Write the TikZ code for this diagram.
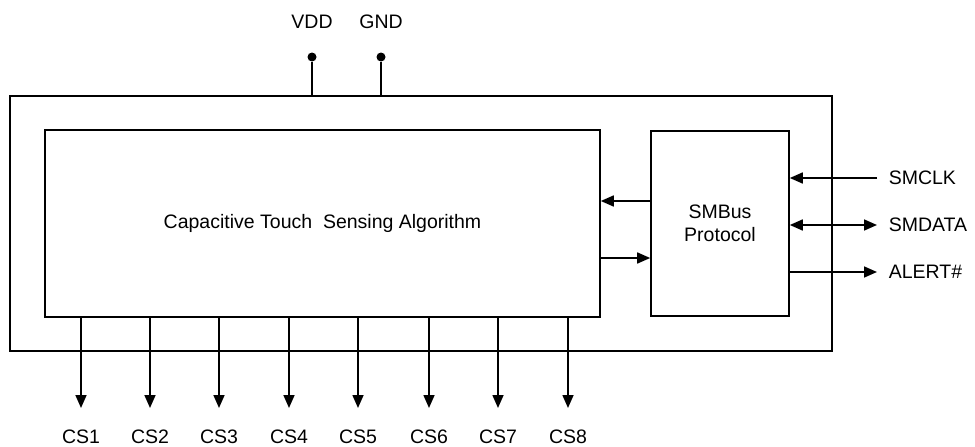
\documentclass[tikz,border=0pt]{standalone}
\usepackage{fontspec}
\setmainfont{Liberation Sans}
\usetikzlibrary{arrows.meta,calc}
\begin{document}
\begin{tikzpicture}[x=1pt,y=-1pt,
  line width=1.6pt,
  box/.style={draw,line width=1.6pt,inner sep=0pt,font=\fontsize{19.5}{23}\selectfont,align=center},
  lbl/.style={inner sep=0pt,font=\fontsize{19.5}{23}\selectfont},
  tip/.style={-{Triangle[length=13pt,width=11pt]}},
  dtip/.style={{Triangle[length=13pt,width=11pt]}-{Triangle[length=13pt,width=11pt]}},
  pin/.style={circle,fill=black,inner sep=0pt,minimum size=9pt}]
\useasboundingbox (0,0) rectangle (975,447);
\node[box,minimum width=822pt,minimum height=255pt] (outer) at (421,223.5) {};
\node[box,minimum width=555pt,minimum height=187pt] (algo) at (322.5,223.5) {Capacitive Touch\ \ Sensing Algorithm};
\node[box,minimum width=138pt,minimum height=185pt] (smbus) at (720,223.5) {SMBus\\Protocol};
% power pins
\node[pin] (vdd) at (312,57) {};
\node[pin] (gnd) at (381,57) {};
\node[lbl] (vddl) at (312,21.5) {VDD};
\node[lbl] (gndl) at (381,21.5) {GND};
\draw (vdd) -- (vdd |- outer.north);
\draw (gnd) -- (gnd |- outer.north);
% internal arrows
\draw[tip] (smbus.west |- 0,201) -- (algo.east |- 0,201);
\draw[tip] (algo.east |- 0,258) -- (smbus.west |- 0,258);
% right side signals
\coordinate (clk) at (877,178);
\coordinate (dat) at (877,225);
\coordinate (alr) at (877,272);
\node[lbl,anchor=west] (clkl) at (888,178) {SMCLK};
\node[lbl,anchor=west] (datl) at (888,225) {SMDATA};
\node[lbl,anchor=west] (alrl) at (888,272) {ALERT\#};
\draw[tip] (clk) -- (smbus.east |- clk);
\draw[dtip] (smbus.east |- dat) -- (dat);
\draw[tip] (smbus.east |- alr) -- (alr);
% CS outputs
\foreach \i/\x in {1/81,2/150,3/219,4/289,5/358,6/429,7/498,8/568}{
  \coordinate (cs\i) at (\x,408);
  \node[lbl] (csl\i) at (\x,436.5) {CS\i};
  \draw[tip] (cs\i |- algo.south) -- (cs\i);
}
\end{tikzpicture}
\end{document}
